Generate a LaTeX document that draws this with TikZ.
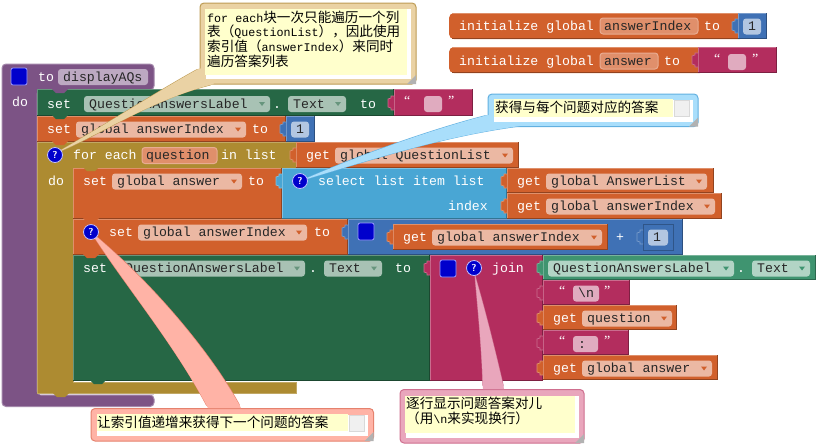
\documentclass[tikz,border=0pt]{standalone}
\usepackage{fontspec}
\setmonofont{Liberation Mono}
\newfontfamily\cjf{Noto Sans CJK SC}
\newfontfamily\qtf{Liberation Serif}
\definecolor{cor}{HTML}{D1602C}
\definecolor{cgr}{HTML}{266745}
\definecolor{clg}{HTML}{3F9470}
\definecolor{cpk}{HTML}{B32D5E}
\definecolor{cbl}{HTML}{3F71B5}
\definecolor{csl}{HTML}{49A6D4}
\definecolor{col}{HTML}{AD8B31}
\definecolor{cpu}{HTML}{7C5385}
\definecolor{por}{HTML}{EBB8A3}
\definecolor{pdk}{HTML}{E08F6B}
\definecolor{pgr}{HTML}{A8C2B4}
\definecolor{plg}{HTML}{B2D4C5}
\definecolor{ppu}{HTML}{BDA9C2}
\definecolor{pbl}{HTML}{B2C6E1}
\definecolor{ppk}{HTML}{E0ABBF}
\definecolor{cya}{HTML}{FFFFCC}
\definecolor{fbe}{HTML}{EAD2A4}\definecolor{dbe}{HTML}{BE9C55}
\definecolor{fbu}{HTML}{A9DEFB}\definecolor{dbu}{HTML}{62B0E0}
\definecolor{fsa}{HTML}{FFB3A6}\definecolor{dsa}{HTML}{E5826E}
\definecolor{fpi}{HTML}{E9A6BC}\definecolor{dpi}{HTML}{CF6F8F}
\newcounter{nn}
\tikzset{
 lbl/.style={inner sep=0pt,anchor=west,text height=11pt,text depth=3pt,font=\fontsize{13.2}{14}\ttfamily,text=white},
 dark/.style={lbl,text=black!85},
 cmt/.style={inner sep=0pt,anchor=west,text height=11pt,text depth=3pt,font=\fontsize{11.7}{14}\ttfamily,text=black},
 qm/.style={inner sep=0pt,font=\fontsize{10}{10}\sffamily\bfseries,text=white,circle,fill=blue!80!black,draw=white!75!blue,line width=.8pt,minimum size=15pt}
}
\newcommand\lb[3]{\stepcounter{nn}\node[lbl] (n\thenn) at (#1,#2) {#3};}
\newcommand\qt[3]{\stepcounter{nn}\node[lbl,font=\fontsize{14}{14}\qtf] (n\thenn) at (#1,#2) {#3};}
\newcommand\bk[5]{\fill[#5] (#1,#2) rectangle (#3,#4);
 \draw[#5!70!white] (#1+.5,#4) -- (#1+.5,#2+.5) -- (#3,#2+.5);
 \draw[#5!70!black] (#1,#4-.5) -- (#3-.5,#4-.5) -- (#3-.5,#2);}
\newcommand\pl[6]{\fill[#4,rounded corners=3] (#1,#3-8) rectangle (#2,#3+8);
 \stepcounter{nn}\node[dark] (n\thenn) at (#1+5,#3) {#5};
 \ifx&#6&\else\fill[#6] (#2-11,#3-2) -- (#2-5,#3-2) -- (#2-8,#3+2) -- cycle;\fi}
\newcommand\pld[4]{\filldraw[fill=pdk,draw=por!70!pdk,line width=1pt,rounded corners=3] (#1,#3-8) rectangle (#2,#3+8);
 \stepcounter{nn}\node[dark] (n\thenn) at (#1+4,#3) {#4};}
\newcommand\tb[3]{\filldraw[fill=#3,draw=#3!70!white,line width=.7pt] (#1,#2-7) -- (#1-3,#2-7) -- (#1-3,#2-5) -- (#1-6,#2-4) -- (#1-6,#2+4) -- (#1-3,#2+5) -- (#1-3,#2+7) -- (#1,#2+7);}
\newcommand\dnb[3]{\fill[#3] (#1,#2-1) -- (#1+4,#2+3) -- (#1+12,#2+3) -- (#1+16,#2-1) -- cycle;}
\newcommand\ic[2]{\stepcounter{nn}\node[qm] (n\thenn) at (#1,#2) {?};}
\newcommand\sq[2]{\filldraw[fill=blue!80!black,draw=white!60!blue,line width=.8pt,rounded corners=2] (#1,#2) rectangle (#1+16,#2+17);}
\newcommand\cm[7]{% x1 y1 x2 y2 fill draw tail
 \filldraw[fill=#5,draw=#6,line width=1pt,rounded corners=4] #7;
 \filldraw[fill=#5,draw=#6,line width=1pt,rounded corners=4] (#1,#2) rectangle (#3,#4);
 \fill[#5] #7;
 \fill[white] (#1+5.5,#2+6) rectangle (#3-5.5,#4-5);
 \fill[gray!60] (#3,#4) -- (#3-9,#4) -- (#3,#4-9) -- cycle;}
\newcommand\ct[3]{\stepcounter{nn}\node[cmt] (n\thenn) at (#1,#2) {#3};}
\newcommand\cj[1]{{\cjf\fontsize{13.6}{14}\selectfont #1}}
\begin{document}
\begin{tikzpicture}[x=1pt,y=-1pt]
\useasboundingbox (0,0) rectangle (818,445);
\fill[white] (0,0) rectangle (818,445);
% init blocks
\fill[cor,rounded corners=5] (449,13) rectangle (745,39);
\draw[cor!70!white] (452,13.5) -- (738,13.5);
\draw[cor!70!black] (452,38.5) -- (738,38.5);
\lb{459}{26}{initialize global}\pld{600}{698}{26}{answerIndex}\lb{704}{26}{to}
\bk{738}{13}{767}{39}{cbl}\tb{738}{26}{cbl}\pl{743}{761}{26.5}{pbl}{1}{}
\fill[cor,rounded corners=5] (449,47) rectangle (705,73);
\draw[cor!70!white] (452,47.5) -- (698,47.5);
\draw[cor!70!black] (452,72.5) -- (698,72.5);
\lb{459}{61}{initialize global}\pld{600}{658}{61}{answer}\lb{664}{61}{to}
\bk{698}{47}{777}{73}{cpk}\tb{698}{60}{cpk}
\qt{714}{59.5}{“}\pl{728}{746}{62}{ppk}{}{}\qt{752}{59.5}{”}
% procedure
\filldraw[fill=cpu,draw=cpu!70!white,line width=1pt,rounded corners=4] (2,64) -- (154,64) -- (154,90) -- (37,90) -- (37,395) -- (154,395) -- (154,406.5) -- (2,406.5) -- cycle;
\sq{11}{68}\lb{38}{77}{to}\pl{58}{148}{77}{ppu}{displayAQs}{}\lb{12}{102}{do}
% set label
\bk{37}{89}{394}{116}{cgr}\dnb{52}{90}{cpu}
\lb{47}{104}{set}\pl{84}{270}{104}{pgr}{QuestionAnswersLabel}{cgr!70!white}\lb{273}{104}{.}
\pl{288}{346}{104}{pgr}{Text}{cgr!70!white}\lb{360}{104}{to}
\bk{394}{89}{473}{116}{cpk}\tb{394}{103}{cpk}
\qt{404}{101.5}{“}\pl{424}{442}{104}{ppk}{}{}\qt{448}{101.5}{”}
% set index
\bk{37}{116}{286}{142}{cor}\dnb{52}{116}{cgr}
\lb{47}{129.5}{set}\pl{76}{246}{129.5}{por}{global answerIndex}{cor}\lb{252}{129.5}{to}
\bk{286}{116}{315}{142}{cbl}\tb{286}{129}{cbl}\pl{291}{309}{129.5}{pbl}{1}{}
% for each
\filldraw[fill=col,draw=col!75!white,line width=1pt] (37.5,142.5) -- (296,142.5) -- (296,168) -- (73,168) -- (73,382) -- (296,382) -- (296,393.5) -- (37.5,393.5) -- cycle;
\draw[white!70!cpu,line width=1pt] (40,394.5) -- (154,394.5);
\dnb{52}{142}{cor}\dnb{53}{394}{col}
\lb{73}{155.5}{for each}\pld{142}{217}{155.5}{question}\lb{221}{155.5}{in list}\lb{48}{181}{do}
\bk{296}{142}{519}{168}{cor}\tb{296}{155}{cor}\lb{306}{155.5}{get}\pl{335}{513}{155.5}{por}{global QuestionList}{cor}
% set answer
\bk{73}{168}{282}{219}{cor}\dnb{83}{168}{col}
\lb{83}{181.5}{set}\pl{112}{242}{181.5}{por}{global answer}{cor}\lb{248}{181.5}{to}
\bk{282}{168}{507}{219}{csl}\tb{282}{181}{csl}
\lb{318}{181.5}{select list item list}\lb{448}{206.5}{index}
\bk{507}{168}{714}{193}{cor}\tb{507}{181}{cor}\lb{517}{181.5}{get}\pl{546}{707}{181.5}{por}{global AnswerList}{cor}
\bk{507}{193}{722}{219}{cor}\tb{507}{206}{cor}\lb{517}{206.5}{get}\pl{546}{715}{206.5}{por}{global answerIndex}{cor}
% increment
\bk{73}{219}{348}{255}{cor}\dnb{83}{219}{cor}
\lb{109}{232.5}{set}\pl{138}{307}{232.5}{por}{global answerIndex}{cor}\lb{314}{232.5}{to}
\bk{348}{219}{683}{255}{cbl}\tb{348}{232}{cbl}\sq{358}{223}
\bk{393}{224}{608}{250}{cor}\tb{393}{237}{cor}\lb{403}{237.5}{get}\pl{432}{602}{237.5}{por}{global answerIndex}{cor}
\lb{616}{237.5}{+}\draw[cbl!75!black,fill=cbl] (643.5,224.5) rectangle (673.5,250);\tb{643}{237}{cbl}\pl{648}{668}{237.5}{pbl}{1}{}
% set text
\bk{73}{255}{430}{381}{cgr}\dnb{83}{255}{cor}\dnb{90}{381}{cgr}
\lb{83}{268.5}{set}\pl{120}{305}{268.5}{pgr}{QuestionAnswersLabel}{cgr!70!white}\lb{309}{268.5}{.}
\pl{324}{382}{268.5}{pgr}{Text}{cgr!70!white}\lb{395}{268.5}{to}
\bk{430}{255}{543}{381}{cpk}\tb{430}{268}{cpk}\sq{440}{260}\lb{492}{268.5}{join}
\bk{543}{255}{816}{280}{clg}\tb{543}{268}{clg}\pl{548}{734}{268.5}{plg}{QuestionAnswersLabel}{clg}\lb{737}{268.5}{.}\pl{752}{810}{268.5}{plg}{Text}{clg}
\bk{543}{280}{630}{305}{cpk}\tb{543}{293}{cpk}\qt{559}{291}{“}\pl{573}{599}{293.5}{ppk}{\textbackslash n}{}\qt{604}{291}{”}
\bk{543}{305}{677}{330}{cor}\tb{543}{318}{cor}\lb{553}{318.5}{get}\pl{582}{672}{318.5}{por}{question}{cor}
\bk{543}{330}{629}{355}{cpk}\tb{543}{343}{cpk}\qt{559}{341.5}{“}\pl{573}{598}{344}{ppk}{:}{}\qt{604}{341.5}{”}
\bk{543}{355}{718}{380}{cor}\tb{543}{368}{cor}\lb{553}{368.5}{get}\pl{582}{712}{368.5}{por}{global answer}{cor}
% comments
\cm{200}{3}{416}{84}{fbe}{dbe}{(200,68) .. controls (160,90) and (110,122) .. (56,153) .. controls (100,135) and (150,100) .. (214,84) -- cycle}
\fill[cya] (205,8.5) rectangle (407,75);
\ct{207}{18}{for each\cj{块一次只能遍历一个列}}
\ct{207}{32.5}{\cj{表（}QuestionList\cj{），因此使用}}
\ct{207}{47.5}{\cj{索引值（}answerIndex\cj{）来同时}}
\ct{207}{62}{\cj{遍历答案列表}}
\cm{488}{94}{698}{126.5}{fbu}{dbu}{(488,115) .. controls (430,130) and (360,155) .. (300,181) .. controls (370,160) and (440,137) .. (520,126) -- cycle}
\fill[cya] (494,99) rectangle (673,117);
\draw[gray!30,fill=gray!12] (674.5,100) rectangle (689,116.5);
\ct{495}{108.5}{\cj{获得与每个问题对应的答案}}
\cm{91}{408.5}{373.5}{441}{fsa}{dsa}{(91,232) .. controls (125,285) and (175,345) .. (208,408) -- (241,408) .. controls (215,360) and (160,290) .. (91,232) -- cycle}
\fill[cya] (96.5,414) rectangle (348,431);
\draw[gray!30,fill=gray!12] (349.5,415) rectangle (364,431.5);
\ct{97}{423}{\cj{让索引值递增来获得下一个问题的答案}}
\cm{400}{389.5}{584}{443}{fpi}{dpi}{(475,276) .. controls (478,310) and (482,350) .. (483,389) -- (504,389) .. controls (495,350) and (485,310) .. (475,276) -- cycle}
\fill[cya] (405,395.5) rectangle (575,433);
\ct{406}{404}{\cj{逐行显示问题答案对儿}}
\ct{406}{419}{\cj{（用}\textbackslash n\cj{来实现换行）}}
% question icons
\ic{55}{155}\ic{300}{181}\ic{91}{232}\ic{474}{268}
\end{tikzpicture}
\end{document}
